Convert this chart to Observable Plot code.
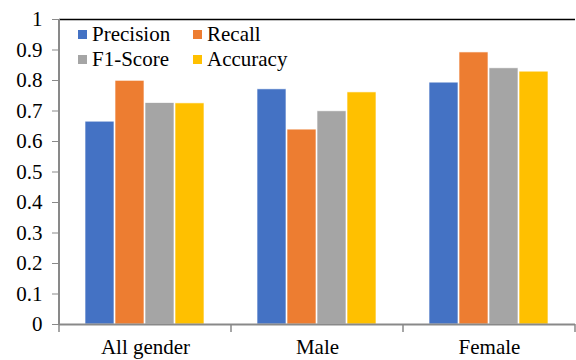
<!DOCTYPE html>
<html><head><meta charset="utf-8">
<script src="https://cdn.jsdelivr.net/npm/d3@7"></script>
<script src="https://cdn.jsdelivr.net/npm/@observablehq/plot@0.6"></script>
<style>
body{margin:0;background:#fff}
#chart svg text{font-family:"Liberation Serif","Times New Roman",serif !important;}
</style>
</head><body><div id="chart"></div>
<script>
const genders = ["All gender", "Male", "Female"];
const metrics = ["Precision", "Recall", "F1-Score", "Accuracy"];
const colors = ["#4472C4", "#ED7D31", "#A5A5A5", "#FFC000"];
const precision = [0.665, 0.771, 0.793];
const recall = [0.799, 0.639, 0.892];
const f1 = [0.726, 0.699, 0.840];
const accuracy = [0.725, 0.761, 0.829];
const yTicks = [0, 0.1, 0.2, 0.3, 0.4, 0.5, 0.6, 0.7, 0.8, 0.9, 1];

const series = [precision, recall, f1, accuracy];
const data = genders.flatMap((g, i) => metrics.map((m, j) => ({gender: g, metric: m, value: series[j][i]})));

const font = "'Liberation Serif', 'Times New Roman', serif";
const axisGray = "#898989";

const plot = Plot.plot({
  width: 576, height: 360,
  marginLeft: 58, marginRight: 0, marginTop: 19, marginBottom: 36,
  style: {fontFamily: font, fontSize: "21px", color: "#000", background: "#fff"},
  fx: {domain: genders, padding: 0, label: null},
  x: {domain: metrics, paddingInner: 0.03, paddingOuter: 0.8, axis: null},
  y: {domain: [0, 1], label: null},
  color: {domain: metrics, range: colors},
  marks: [
    Plot.barY(data, {fx: "gender", x: "metric", y: "value", fill: "metric", stroke: "#fff", strokeWidth: 0.8, strokeOpacity: 0.8}),
    Plot.ruleY([1], {stroke: "#000", strokeWidth: 1.5}),
    Plot.ruleY([0], {stroke: axisGray, strokeWidth: 2}),
    Plot.axisY({ticks: yTicks, tickFormat: d => String(+d.toFixed(1)), tickSize: 7, tickPadding: 10, stroke: axisGray, fill: "#000", fontSize: 21, label: null}),
    Plot.axisFx({anchor: "bottom", tickSize: 0, tickPadding: 15, fill: "#000", fontSize: 21, label: null})
  ]
});
document.getElementById("chart").appendChild(plot);

// y axis line and category boundary ticks, positioned through the plot's scales
const svg = d3.select(plot);
const fx = plot.scale("fx");
const y = plot.scale("y");
const y0 = y.apply(0), y1 = y.apply(1);
const x0 = fx.apply(genders[0]);
svg.append("line").attr("x1", x0).attr("x2", x0).attr("y1", y1).attr("y2", y0 + 1)
  .attr("stroke", axisGray).attr("stroke-width", 2);
const bounds = genders.map(g => fx.apply(g)).concat([fx.apply(genders[genders.length - 1]) + fx.bandwidth]);
svg.append("g").selectAll("line").data(bounds).join("line")
  .attr("x1", d => d).attr("x2", d => d).attr("y1", y0).attr("y2", y0 + 8)
  .attr("stroke", axisGray).attr("stroke-width", 1.5);

// legend
const leg = svg.append("g").attr("font-size", 21).attr("fill", "#000").attr("text-anchor", "start");
const legPos = [[78, 30], [193, 30], [78, 55], [193, 55]];
metrics.forEach((m, i) => {
  const [lx, ly] = legPos[i];
  leg.append("rect").attr("x", lx).attr("y", ly).attr("width", 9).attr("height", 9).attr("fill", colors[i]);
  leg.append("text").attr("x", lx + 14).attr("y", ly + 11).attr("text-anchor", "start").text(m);
});
</script>
</body></html>
